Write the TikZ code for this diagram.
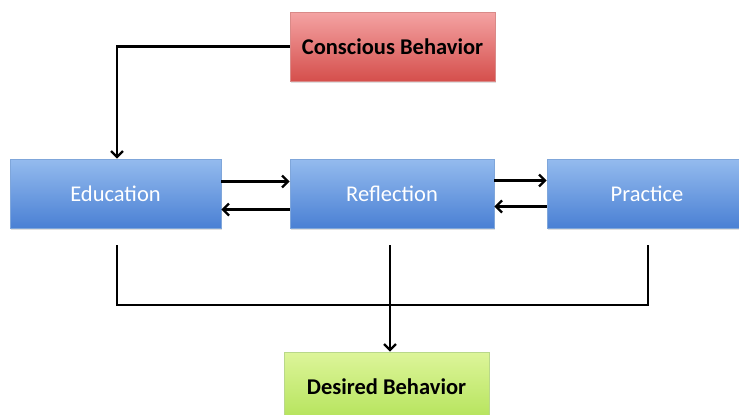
\documentclass[tikz,border=0pt]{standalone}
\usepackage{fontspec}
\setmainfont{Carlito}
\usetikzlibrary{arrows.meta,calc,shadows}
\definecolor{bluetop}{HTML}{94BBEE}
\definecolor{bluebot}{HTML}{4A80D4}
\definecolor{blueedge}{HTML}{7FA6DA}
\definecolor{redtop}{HTML}{F4A3A3}
\definecolor{redbot}{HTML}{D54F4C}
\definecolor{rededge}{HTML}{D98A88}
\definecolor{greentop}{HTML}{DDF59A}
\definecolor{greenbot}{HTML}{B4E35A}
\definecolor{greenedge}{HTML}{B9D88A}
\tikzset{
  x=1pt, y=-1pt,
  box/.style={rectangle, inner sep=0pt, text depth=0pt, font=\fontsize{22.5}{26}\selectfont, drop shadow={shadow xshift=1pt, shadow yshift=-2pt, opacity=0.25}},
  bluebox/.style={box, top color=bluetop, bottom color=bluebot, draw=blueedge, line width=0.6pt, text=white, minimum height=69pt},
  redbox/.style={box, top color=redtop, bottom color=redbot, draw=rededge, line width=0.6pt, text=black, font=\fontsize{22.5}{26}\selectfont\bfseries, minimum height=69pt},
  greenbox/.style={box, top color=greentop, bottom color=greenbot, draw=greenedge, line width=0.6pt, text=black, font=\fontsize{22.5}{26}\selectfont\bfseries, minimum height=69pt},
  conn/.style={draw=black, line width=2.7pt},
  arr/.style={conn, -{Straight Barb[length=6pt,width=12pt,line width=2.4pt]}},
}
\begin{document}
\begin{tikzpicture}
\useasboundingbox (0,0) rectangle (739,415);
\node[redbox, minimum width=205pt] (cons) at (392.5,46.5) {Conscious Behavior};
\node[bluebox, minimum width=211pt] (edu) at (115.5,193.5) {Education};
\node[bluebox, minimum width=204pt] (refl) at (392,193.5) {Reflection};
\node[bluebox, minimum width=200pt] (prac) at (647,193.5) {Practice};
\node[greenbox, minimum width=205pt] (des) at (386.5,386.5) {Desired Behavior};

\coordinate (topcorner) at (117,46.5);
\draw[arr] (cons.west) -- (topcorner) -- (edu.north -| topcorner);

\draw[arr] ($(edu.east)+(0,-12)$) -- ($(refl.west)+(0,-12)$);
\draw[arr] ($(refl.west)+(0,16)$) -- ($(edu.east)+(0,16)$);
\draw[arr] ($(refl.east)+(0,-13)$) -- ($(prac.west)+(0,-13)$);
\draw[arr] ($(prac.west)+(0,13)$) -- ($(refl.east)+(0,13)$);

\coordinate (e1) at (117,245);
\coordinate (r1) at (390,245);
\coordinate (p1) at (648,245);
\coordinate (e2) at (117,305);
\coordinate (p2) at (648,305);
\draw[conn, line join=miter] (e1) -- (e2) -- (p2) -- (p1);
\draw[arr] (r1) -- (r1 |- des.north);
\end{tikzpicture}
\end{document}
